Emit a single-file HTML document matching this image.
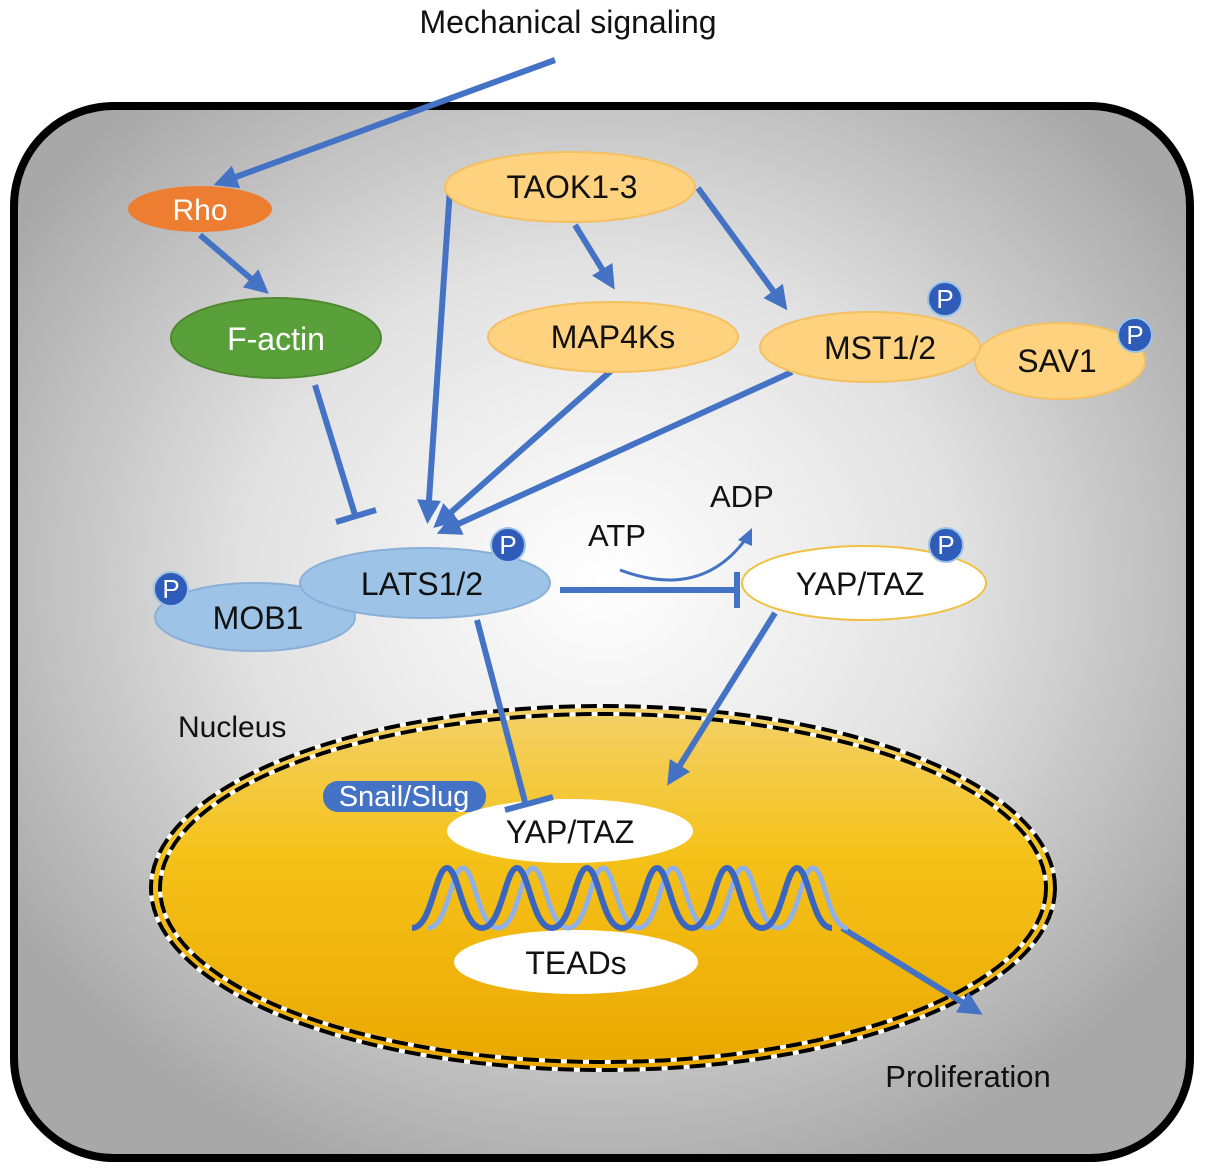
<!DOCTYPE html>
<html><head><style>body{margin:0;background:#fff}svg{display:block}text{font-family:"Liberation Sans",Arial,sans-serif}</style></head>
<body>
<svg width="1205" height="1175" viewBox="0 0 1205 1175" xmlns="http://www.w3.org/2000/svg">
<defs>
<radialGradient id="cell" cx="0.5" cy="0.45" r="0.6">
<stop offset="0" stop-color="#ffffff"/><stop offset="0.5" stop-color="#e2e2e2"/><stop offset="1" stop-color="#a8a8a8"/></radialGradient>
<linearGradient id="nuc" x1="0" y1="0" x2="0" y2="1">
<stop offset="0" stop-color="#f3d16a"/><stop offset="0.4" stop-color="#f5c21a"/><stop offset="1" stop-color="#eaa800"/></linearGradient>
<marker id="ar" markerWidth="4" markerHeight="4" refX="2.5" refY="2" orient="auto" markerUnits="strokeWidth"><path d="M0,0 L4,2 L0,4 z" fill="#4472c4"/></marker>
</defs>
<rect x="14" y="106" width="1176" height="1052" rx="100" fill="url(#cell)" stroke="#000" stroke-width="8"/>
<text x="568" y="33" font-size="32" text-anchor="middle" fill="#111">Mechanical signaling</text>
<!-- nucleus -->
<ellipse cx="603" cy="888" rx="452" ry="182" fill="url(#nuc)"/>
<ellipse cx="603" cy="888" rx="452" ry="182" fill="none" stroke="#fff" stroke-width="4"/>
<ellipse cx="603" cy="888" rx="452" ry="182" fill="none" stroke="#000" stroke-width="4" stroke-dasharray="16,6"/>
<ellipse cx="603" cy="888" rx="443" ry="174" fill="none" stroke="#fff" stroke-width="4"/>
<ellipse cx="603" cy="888" rx="443" ry="174" fill="none" stroke="#000" stroke-width="4" stroke-dasharray="16,6"/>
<text x="178" y="737" font-size="30" fill="#111">Nucleus</text>
<!-- lines -->
<g stroke="#4472c4" stroke-width="6" fill="none" stroke-linecap="butt">
<line x1="555" y1="60" x2="222" y2="182" marker-end="url(#ar)"/>
<line x1="200" y1="235" x2="262" y2="288" marker-end="url(#ar)"/>
<line x1="315" y1="385" x2="355" y2="515"/>
<line x1="336" y1="522" x2="376" y2="510"/>
<line x1="450" y1="188" x2="428" y2="515" marker-end="url(#ar)"/>
<line x1="575" y1="225" x2="610" y2="282" marker-end="url(#ar)"/>
<line x1="698" y1="188" x2="782" y2="303" marker-end="url(#ar)"/>
<line x1="612" y1="370" x2="440" y2="522" marker-end="url(#ar)"/>
<line x1="792" y1="372" x2="445" y2="530" marker-end="url(#ar)"/>
<line x1="560" y1="590" x2="735" y2="590"/>
<line x1="737" y1="572" x2="737" y2="608"/>
<line x1="775" y1="613" x2="672" y2="778" marker-end="url(#ar)"/>
<line x1="842" y1="928" x2="975" y2="1010" marker-end="url(#ar)"/>
</g>
<path d="M620,570 Q700,600 745,540" stroke="#4472c4" stroke-width="3" fill="none"/>
<path d="M738,540 L752,528 L752,546 z" fill="#4472c4"/>
<text x="588" y="546" font-size="31" fill="#111">ATP</text>
<text x="710" y="507" font-size="31" fill="#111">ADP</text>
<!-- nodes -->
<ellipse cx="200" cy="209" rx="72" ry="23" fill="#ed7d31"/>
<text x="200" y="220" font-size="30" fill="#fff" text-anchor="middle">Rho</text>
<ellipse cx="276" cy="338" rx="105" ry="40" fill="#5aa03a" stroke="#4d8a30" stroke-width="2"/>
<text x="276" y="350" font-size="32" fill="#fff" text-anchor="middle">F-actin</text>
<g fill="#ffd27f" stroke="#f5c060" stroke-width="2">
<ellipse cx="570" cy="187" rx="125" ry="35"/>
<ellipse cx="613" cy="337" rx="125" ry="35"/>
<ellipse cx="1060" cy="361" rx="85" ry="38"/>
<ellipse cx="870" cy="347" rx="110" ry="35"/>
</g>
<g font-size="32" fill="#111" text-anchor="middle">
<text x="572" y="198">TAOK1-3</text>
<text x="613" y="348">MAP4Ks</text>
<text x="880" y="359">MST1/2</text>
<text x="1057" y="372">SAV1</text>
</g>
<g fill="#9dc3e6" stroke="#8ab0d8" stroke-width="2">
<ellipse cx="255" cy="617" rx="100" ry="34"/>
<ellipse cx="425" cy="583" rx="125" ry="35"/>
</g>
<text x="258" y="629" font-size="32" fill="#111" text-anchor="middle">MOB1</text>
<text x="422" y="595" font-size="32" fill="#111" text-anchor="middle">LATS1/2</text>
<ellipse cx="864" cy="583" rx="122" ry="37" fill="#fff" stroke="#f0c040" stroke-width="2"/>
<text x="860" y="595" font-size="32" fill="#111" text-anchor="middle">YAP/TAZ</text>
<!-- P badges -->
<g fill="#2e5cb8" stroke="#9dc3e6" stroke-width="2">
<circle cx="945" cy="299" r="17"/><circle cx="1135" cy="335" r="17"/>
<circle cx="508" cy="545" r="17"/><circle cx="171" cy="589" r="17"/><circle cx="946" cy="545" r="17"/>
</g>
<g font-size="26" fill="#fff" text-anchor="middle">
<text x="945" y="308">P</text><text x="1135" y="344">P</text><text x="508" y="554">P</text><text x="171" y="598">P</text><text x="946" y="554">P</text>
</g>
<!-- nucleus contents -->
<rect x="323" y="781" width="163" height="31" rx="15" fill="#4472c4"/>
<text x="404" y="806" font-size="29" fill="#fff" text-anchor="middle">Snail/Slug</text>
<ellipse cx="570" cy="831" rx="123" ry="32" fill="#fff"/>
<text x="570" y="843" font-size="32" fill="#111" text-anchor="middle">YAP/TAZ</text>
<g stroke="#4472c4" stroke-width="6" fill="none">
<line x1="477" y1="620" x2="525" y2="802"/>
<line x1="505" y1="810" x2="553" y2="797"/>
</g>
<ellipse cx="576" cy="962" rx="122" ry="32" fill="#fff"/>
<text x="576" y="974" font-size="32" fill="#111" text-anchor="middle">TEADs</text>
<path d="M412,928 C432,928 435,868 447,868 C459,868 462,928 482,928 C502,928 505,868 517,868 C529,868 532,928 552,928 C572,928 575,868 587,868 C599,868 602,928 622,928 C642,928 645,868 657,868 C669,868 672,928 692,928 C712,928 715,868 727,868 C739,868 742,928 762,928 C782,928 785,868 797,868 C809,868 812,928 832,928" fill="none" stroke="#8fb0e8" stroke-width="5" transform="translate(16,0)"/>
<path d="M412,928 C432,928 435,868 447,868 C459,868 462,928 482,928 C502,928 505,868 517,868 C529,868 532,928 552,928 C572,928 575,868 587,868 C599,868 602,928 622,928 C642,928 645,868 657,868 C669,868 672,928 692,928 C712,928 715,868 727,868 C739,868 742,928 762,928 C782,928 785,868 797,868 C809,868 812,928 832,928" fill="none" stroke="#3a66c0" stroke-width="6"/>
<text x="968" y="1087" font-size="31" fill="#111" text-anchor="middle">Proliferation</text>
</svg>
</body></html>
